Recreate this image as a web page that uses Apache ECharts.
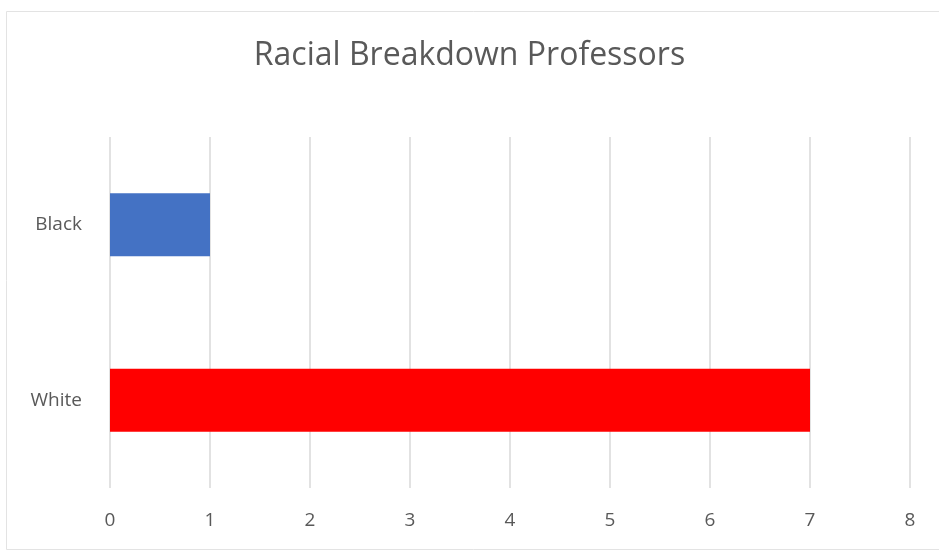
<!DOCTYPE html>
<html>
<head>
<meta charset="utf-8">
<script src="https://cdn.jsdelivr.net/npm/echarts@6/dist/echarts.min.js"></script>
<style>
html,body{margin:0;padding:0;background:#fff;}
#chart{width:939px;height:551px;}
</style>
</head>
<body>
<div id="chart"></div>
<script>
var titleText = 'Racial Breakdown Professors';
var categories = ['Black', 'White'];
var values = [1, 7];
var barColors = ['#4472C4', '#FF0000'];
var xTicks = [0, 1, 2, 3, 4, 5, 6, 7, 8];

var chart = echarts.init(document.getElementById('chart'), null, {renderer: 'canvas'});
var FONT = 'Open Sans';
chart.setOption({
  backgroundColor: '#ffffff',
  animation: false,
  title: {
    text: titleText,
    left: 'center',
    top: 35,
    textStyle: {fontFamily: FONT, fontSize: 32, fontWeight: 'normal', color: '#595959'}
  },
  graphic: [{
    type: 'rect',
    shape: {x: 6.5, y: 11.5, width: 940, height: 538},
    style: {fill: 'none', stroke: '#e3e3e3', lineWidth: 1},
    silent: true
  }],
  grid: {left: 110, right: 29, top: 137, bottom: 63, containLabel: false},
  xAxis: {
    type: 'value',
    min: xTicks[0],
    max: xTicks[xTicks.length - 1],
    interval: 1,
    axisLine: {show: false},
    axisTick: {show: false},
    splitLine: {show: true, lineStyle: {color: '#d9d9d9', width: 1.5}},
    axisLabel: {fontFamily: FONT, fontSize: 19, color: '#595959', margin: 23}
  },
  yAxis: {
    type: 'category',
    data: categories,
    inverse: true,
    axisLine: {show: false},
    axisTick: {show: false},
    splitLine: {show: false},
    axisLabel: {fontFamily: FONT, fontSize: 19, color: '#595959', margin: 28}
  },
  series: [{
    type: 'bar',
    barWidth: '36%',
    data: values.map(function (v, i) {
      return {value: v, itemStyle: {color: barColors[i]}};
    })
  }]
});
</script>
</body>
</html>
